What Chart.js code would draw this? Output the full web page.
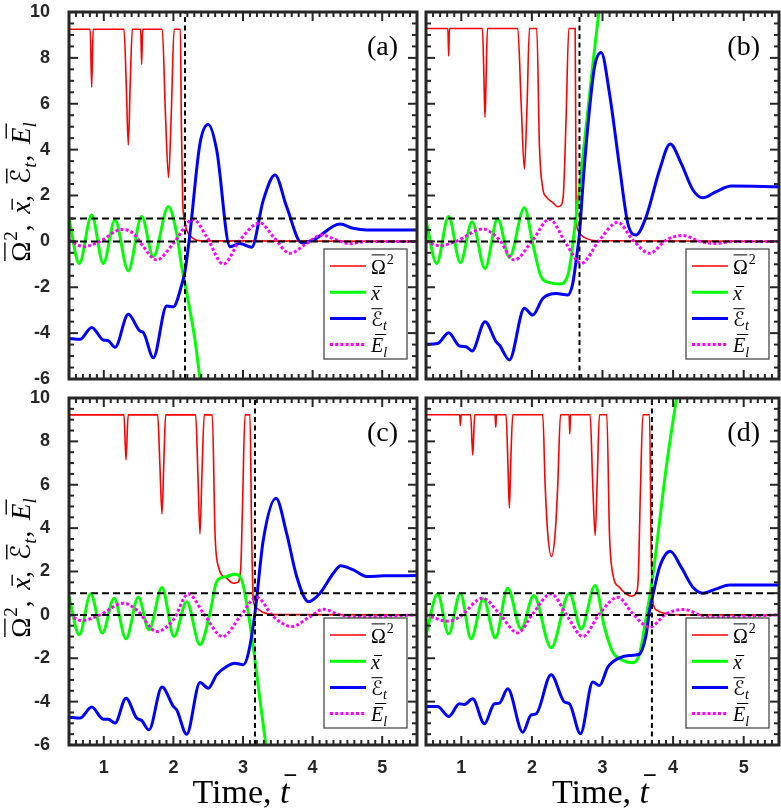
<!DOCTYPE html>
<html>
<head>
<meta charset="utf-8">
<script src="https://cdn.jsdelivr.net/npm/chart.js@4.4.1/dist/chart.umd.min.js"></script>
<style>
  html, body { margin: 0; padding: 0; background: #fff; }
  #fig { position: relative; width: 781px; height: 812px; }
  #fig canvas { position: absolute; }
</style>
</head>
<body>
<div id="fig">
  <canvas id="pa" width="422" height="390" style="left:0;top:0;width:422px;height:390px"></canvas>
  <canvas id="pb" width="359" height="390" style="left:422px;top:0;width:359px;height:390px"></canvas>
  <canvas id="pc" width="422" height="422" style="left:0;top:390px;width:422px;height:422px"></canvas>
  <canvas id="pd" width="359" height="422" style="left:422px;top:390px;width:359px;height:422px"></canvas>
</div>
<script>
// axes
const X_MIN = 0.5, X_MAX = 5.5, Y_MIN = -6, Y_MAX = 10;
const X_TICKS = [1, 2, 3, 4, 5];
const Y_TICKS = [-6, -4, -2, 0, 2, 4, 6, 8, 10];
const PANEL_LABELS = ['(a)', '(b)', '(c)', '(d)'];
// dashed guides: critical time per panel, and the two horizontal levels
const T_CRIT = [2.167, 2.674, 3.172, 3.70];
const REF_LEVELS = [1, 0];

// series, [t, value]
const omega2A = [[0.5,9.25],[0.805,9.25],[0.826,6.72],[0.847,9.25],[1.29,9.25],[1.322,6.9],[1.352,4.2],[1.38,6.9],[1.41,9.25],[1.53,9.25],[1.544,7.72],[1.558,9.25],[1.84,9.25],[1.885,5.6],[1.93,2.78],[1.97,5.6],[2.01,9.25],[2.10,9.25],[2.115,5.0],[2.133,1.8],[2.16,0.9],[2.19,0.5],[2.286,0.12],[2.382,0.02],[5.5,0]];
const xbarA = [[0.5,1.0],[0.648,-0.96],[0.826,1.15],[0.993,-0.96],[1.161,0.93],[1.352,-1.29],[1.544,1.08],[1.712,-0.67],[1.927,1.51],[2.047,0.35],[2.119,-1.1],[2.167,-1.83],[2.238,-3.0],[2.31,-4.3],[2.382,-6.0],[2.45,-7.6]];
const epsA = [[0.5,-4.23],[0.658,-4.27],[0.826,-3.75],[0.993,-4.3],[1.065,-4.33],[1.161,-4.62],[1.352,-3.18],[1.52,-3.91],[1.568,-3.97],[1.712,-5.07],[1.903,-2.82],[1.999,-2.85],[2.119,-1.9],[2.167,-1.3],[2.238,0.35],[2.382,4.27],[2.502,5.1],[2.622,3.98],[2.813,-0.23],[2.957,-0.09],[3.124,-0.26],[3.292,1.8],[3.46,2.89],[3.627,1.51],[3.843,-0.06],[4.011,0.06],[4.394,0.76],[4.585,0.57],[4.777,0.5],[5.5,0.5]];
const elA = [[0.5,0.06],[0.706,-0.23],[0.945,0],[1.257,0.52],[1.424,0.35],[1.568,-0.23],[1.76,-0.81],[1.999,-0.09],[2.286,0.96],[2.478,0.2],[2.717,-0.99],[2.957,0.06],[3.244,0.81],[3.436,0.2],[3.675,-0.52],[3.915,-0.09],[4.13,0.28],[4.346,0.06],[4.537,-0.1],[4.777,0],[5.5,0]];

const omega2B = [[0.5,9.28],[0.81,9.28],[0.821,8.08],[0.832,9.28],[1.30,9.28],[1.32,7.2],[1.336,5.41],[1.352,7.2],[1.37,9.28],[1.80,9.28],[1.848,6.0],[1.894,3.15],[1.932,6.0],[1.965,9.28],[2.069,9.28],[2.107,4.13],[2.154,2.31],[2.201,1.95],[2.296,1.69],[2.367,1.51],[2.414,1.58],[2.447,2.09],[2.485,5.44],[2.523,9.28],[2.613,9.28],[2.627,1.22],[2.65,0.49],[2.697,0.28],[2.768,0.13],[2.91,0.03],[5.5,0]];
const xbarB = [[0.5,0.93],[0.651,-0.96],[0.821,1.08],[0.987,-0.93],[1.152,0.86],[1.336,-1.18],[1.516,1.0],[1.681,-0.7],[1.894,1.47],[2.012,-0.09],[2.13,-1.54],[2.249,-1.8],[2.39,-1.86],[2.508,-1.5],[2.556,-0.7],[2.603,0.5],[2.674,2.3],[2.768,5.0],[2.863,7.7],[2.948,10.0],[3.028,12.3]];
const epsB = [[0.5,-4.49],[0.665,-4.45],[0.821,-3.98],[0.973,-4.56],[1.067,-4.59],[1.152,-4.78],[1.336,-3.5],[1.492,-4.37],[1.54,-4.52],[1.681,-5.17],[1.894,-2.92],[2.012,-3.21],[2.154,-2.49],[2.343,-2.27],[2.508,-2.34],[2.579,-1.83],[2.627,-0.81],[2.674,0.35],[2.721,2.38],[2.792,5.0],[2.887,7.6],[2.981,8.23],[3.099,6.45],[3.241,3.26],[3.359,0.78],[3.477,0.28],[3.619,1.08],[3.808,3.11],[3.959,4.24],[4.115,3.4],[4.281,2.24],[4.422,1.9],[4.611,2.17],[4.824,2.41],[5.5,2.38]];
const elB = [[0.5,0],[0.689,-0.19],[0.925,0],[1.303,0.54],[1.45,0.33],[1.54,0.06],[1.752,-0.81],[2.012,0.06],[2.249,0.97],[2.485,-0.1],[2.697,-0.96],[2.957,0.06],[3.217,0.83],[3.43,0.06],[3.666,-0.52],[3.903,0.06],[4.139,0.26],[4.375,0],[4.611,-0.09],[4.848,0],[5.5,0]];

const omega2C = [[0.5,9.22],[1.29,9.22],[1.319,7.14],[1.35,9.22],[1.774,9.22],[1.805,7.0],[1.836,4.65],[1.862,7.0],[1.889,9.22],[2.32,9.22],[2.352,6.5],[2.382,3.73],[2.41,6.5],[2.444,9.22],[2.559,9.22],[2.598,3.76],[2.646,2.23],[2.765,1.69],[2.861,1.46],[2.918,1.49],[2.966,2.07],[2.995,5.3],[3.029,9.22],[3.10,9.22],[3.124,3.76],[3.148,0.69],[3.196,0.31],[3.292,0.11],[3.45,0.01],[5.5,0]];
const xbarC = [[0.5,0.84],[0.648,-0.92],[0.811,0.97],[0.979,-0.84],[1.147,0.77],[1.319,-1.1],[1.496,0.81],[1.649,-0.69],[1.836,1.26],[2.009,-1.0],[2.191,0.61],[2.382,-1.38],[2.526,0.08],[2.622,1.54],[2.765,1.77],[2.885,1.87],[2.981,1.61],[3.077,0.08],[3.172,-2.07],[3.244,-3.92],[3.33,-6.02],[3.412,-8.0]];
const epsC = [[0.5,-4.72],[0.658,-4.76],[0.826,-4.25],[0.993,-4.81],[1.065,-4.81],[1.161,-4.99],[1.319,-3.84],[1.472,-4.76],[1.544,-4.87],[1.649,-5.3],[1.836,-3.33],[1.999,-4.22],[2.047,-4.38],[2.191,-5.5],[2.382,-3.12],[2.502,-3.38],[2.622,-2.76],[2.765,-2.38],[2.885,-2.23],[3.005,-2.3],[3.077,-1.77],[3.172,0.08],[3.292,3.46],[3.474,5.38],[3.627,3.76],[3.771,1.77],[3.939,0.61],[4.106,1.0],[4.298,1.92],[4.403,2.27],[4.585,2.07],[4.777,1.77],[5.016,1.8],[5.5,1.81]];
const elC = [[0.5,0],[0.682,-0.26],[0.945,0],[1.281,0.54],[1.472,0.23],[1.76,-0.77],[1.999,-0.23],[2.215,0.97],[2.43,0.08],[2.708,-1.0],[2.957,-0.08],[3.196,0.81],[3.436,-0.08],[3.699,-0.54],[3.963,-0.08],[4.154,0.26],[4.394,0],[4.633,-0.1],[5.5,0]];

const omega2D = [[0.5,9.23],[0.977,9.23],[0.987,8.73],[0.997,9.23],[1.133,9.23],[1.162,7.37],[1.19,9.23],[1.478,9.23],[1.488,8.65],[1.498,9.23],[1.634,9.23],[1.66,7.0],[1.681,4.93],[1.70,7.0],[1.729,9.23],[2.154,9.23],[2.187,6.04],[2.225,3.73],[2.277,2.69],[2.329,3.73],[2.367,6.04],[2.405,9.23],[2.527,9.23],[2.537,8.34],[2.547,9.23],[2.825,9.23],[2.86,6.2],[2.896,3.66],[2.925,6.2],[2.957,9.23],[3.061,9.23],[3.099,3.73],[3.146,1.89],[3.241,1.27],[3.32,1.0],[3.41,0.86],[3.475,1.0],[3.505,1.6],[3.534,5.27],[3.572,9.23],[3.666,9.23],[3.69,2.96],[3.713,0.66],[3.761,0.23],[3.903,0.05],[4.1,0],[5.5,0]];
const xbarD = [[0.5,-0.95],[0.665,0.97],[0.821,-0.88],[0.987,1.0],[1.138,-1.1],[1.313,0.74],[1.483,-1.06],[1.658,1.23],[1.847,-0.65],[2.026,0.89],[2.272,-1.52],[2.532,1.0],[2.698,-0.65],[2.896,1.35],[3.028,-0.57],[3.146,-1.72],[3.288,-2.1],[3.43,-2.21],[3.525,-1.8],[3.619,-0.11],[3.713,1.8],[3.808,4.3],[3.903,6.8],[4.044,9.9],[4.139,11.8]];
const epsD = [[0.5,-4.22],[0.665,-4.22],[0.821,-4.69],[0.973,-4.1],[1.043,-4.13],[1.162,-3.87],[1.327,-5.02],[1.469,-4.1],[1.54,-4.07],[1.658,-3.41],[1.871,-5.41],[1.989,-4.61],[2.06,-4.56],[2.272,-2.76],[2.461,-4.02],[2.532,-4.1],[2.688,-5.48],[2.863,-3.1],[2.957,-3.26],[3.076,-2.41],[3.241,-1.98],[3.383,-1.87],[3.515,-1.83],[3.619,-0.9],[3.666,0.2],[3.713,0.9],[3.808,2.2],[3.959,2.93],[4.115,2.2],[4.281,1.27],[4.422,1.0],[4.611,1.2],[4.801,1.38],[5.5,1.38]];
const elD = [[0.5,0],[0.807,-0.29],[0.973,-0.1],[1.303,0.77],[1.54,0.05],[1.8,-0.83],[2.012,0.05],[2.272,0.97],[2.508,-0.1],[2.721,-1.0],[2.957,0.05],[3.217,0.81],[3.43,0.05],[3.666,-0.57],[3.903,0.05],[4.163,0.25],[4.375,0],[4.611,-0.1],[5.5,0]];

// labels (math pieces: text, italic, overline height, sup/sub)
const OMEGA_LABEL = [{ s: 'Ω', bar: 0.93, sup: '2' }];
const XBAR_LABEL = [{ s: 'x', it: true, bar: 0.66 }];
const EPS_LABEL = [{ s: 'ℰ', bar: 0.86, sub: 't' }];
const EL_LABEL = [{ s: 'E', it: true, bar: 0.88, sub: 'l' }];
const COMMA = { s: ',', gap: 0.4 };
const Y_TITLE = [...OMEGA_LABEL, COMMA, ...XBAR_LABEL, COMMA, ...EPS_LABEL, COMMA, ...EL_LABEL];
const X_TITLE = [{ s: 'Time,', gap: 0.25 }, { s: 't', it: true, bar: 0.82 }];

const AXIS_COLOR = '#262626';
const SERIF = '"Liberation Serif", "DejaVu Serif", "DejaVu Sans", serif';

function mfont(size, it) {
  return (it ? 'italic ' : '') + size + 'px ' + SERIF;
}

function mathWidth(ctx, parts, size) {
  let w = 0;
  for (const p of parts) {
    ctx.font = mfont(size, p.it);
    w += ctx.measureText(p.s).width + (p.gap || 0) * size;
    if (p.sup || p.sub) {
      ctx.font = mfont(size * 0.7, !!p.sub);
      w += ctx.measureText(p.sup || p.sub).width + size * 0.04;
    }
  }
  return w;
}

function drawMath(ctx, parts, x, y, size, align) {
  let cx = align === 'center' ? x - mathWidth(ctx, parts, size) / 2 : x;
  ctx.textAlign = 'left';
  ctx.textBaseline = 'alphabetic';
  ctx.fillStyle = '#000';
  ctx.strokeStyle = '#000';
  ctx.setLineDash([]);
  for (const p of parts) {
    ctx.font = mfont(size, p.it);
    const w = ctx.measureText(p.s).width;
    ctx.fillText(p.s, cx, y);
    if (p.bar) {
      const by = y - p.bar * size;
      // centre the bar on the glyph, following the slant for italics
      const mid = cx + w / 2 + (p.it ? 0.2 * p.bar * size : 0);
      const half = Math.max(w * 0.46, size * 0.17);
      ctx.lineWidth = Math.max(1, size * 0.05);
      ctx.beginPath();
      ctx.moveTo(mid - half, by);
      ctx.lineTo(mid + half, by);
      ctx.stroke();
    }
    cx += w;
    if (p.sup) {
      ctx.font = mfont(size * 0.7, false);
      ctx.fillText(p.sup, cx + size * 0.04, y - size * 0.5);
      cx += ctx.measureText(p.sup).width + size * 0.04;
    }
    if (p.sub) {
      ctx.font = mfont(size * 0.7, true);
      ctx.fillText(p.sub, cx, y + size * 0.22);
      cx += ctx.measureText(p.sub).width + size * 0.04;
    }
    cx += (p.gap || 0) * size;
  }
}

const pts = arr => arr.map(([x, y]) => ({ x, y }));

function seg(ctx, x1, y1, x2, y2) {
  ctx.beginPath();
  ctx.moveTo(x1, y1);
  ctx.lineTo(x2, y2);
  ctx.stroke();
}

// legend box, panel tag and axis titles, then the boxed frame with inward ticks
const panelDeco = {
  id: 'panelDeco',
  afterDraw(chart, args, opts) {
    const ctx = chart.ctx;
    const a = chart.chartArea;
    const sx = chart.scales.x, sy = chart.scales.y;
    ctx.save();

    // legend
    const bw = 83, bh = 110;
    const bx = a.right - 10 - bw, by = a.bottom - opts.legendBottom - bh;
    ctx.fillStyle = '#fff';
    ctx.fillRect(bx, by, bw, bh);
    ctx.strokeStyle = '#3a3a3a';
    ctx.lineWidth = 1.2;
    ctx.setLineDash([]);
    ctx.strokeRect(bx, by, bw, bh);
    const entries = chart.data.datasets.filter(d => d.mathLabel);
    entries.forEach((d, i) => {
      const ry = by + 17 + i * 26.2;
      ctx.strokeStyle = d.borderColor;
      ctx.lineWidth = d.borderWidth;
      ctx.setLineDash(d.borderDash || []);
      seg(ctx, bx + 6, ry, bx + 42, ry);
      drawMath(ctx, d.mathLabel, bx + 47, ry + 7.5, 20, 'left');
    });

    // panel tag
    ctx.fillStyle = '#000';
    ctx.font = '28px ' + SERIF;
    ctx.textAlign = 'right';
    ctx.textBaseline = 'middle';
    ctx.fillText(opts.tag, a.right - 19, a.top + 36);

    if (opts.yTitle) {
      ctx.save();
      ctx.translate(30, (a.top + a.bottom) / 2 - 4);
      ctx.rotate(-Math.PI / 2);
      drawMath(ctx, Y_TITLE, 0, 0, 27, 'center');
      ctx.restore();
    }
    if (opts.xTitle) {
      drawMath(ctx, X_TITLE, (a.left + a.right) / 2 - 2, opts.xTitleBase, 34, 'center');
    }

    // frame and ticks
    ctx.setLineDash([]);
    ctx.strokeStyle = AXIS_COLOR;
    ctx.lineWidth = 2;
    for (let i = 5; i <= 55; i++) {
      const px = sx.getPixelForValue(i / 10);
      const len = i % 10 === 0 ? 9 : 5;
      seg(ctx, px, a.bottom, px, a.bottom - len);
      seg(ctx, px, a.top, px, a.top + len);
    }
    for (let i = -12; i <= 20; i++) {
      const py = sy.getPixelForValue(i / 2);
      const len = i % 4 === 0 ? 9 : 5;
      seg(ctx, a.left, py, a.left + len, py);
      seg(ctx, a.right, py, a.right - len, py);
    }
    ctx.lineWidth = 3;
    ctx.strokeRect(a.left, a.top, a.right - a.left, a.bottom - a.top);
    ctx.restore();
  }
};

const PANELS = [
  { id: 'pa', series: [omega2A, xbarA, epsA, elA], showY: true,  showX: false, padding: { left: 0, top: 12, right: 5, bottom: 11 } },
  { id: 'pb', series: [omega2B, xbarB, epsB, elB], showY: false, showX: false, padding: { left: 4, top: 12, right: 2, bottom: 11 } },
  { id: 'pc', series: [omega2C, xbarC, epsC, elC], showY: true,  showX: true,  padding: { left: 0, top: 8, right: 5, bottom: 0 } },
  { id: 'pd', series: [omega2D, xbarD, epsD, elD], showY: false, showX: true,  padding: { left: 4, top: 8, right: 2, bottom: 0 } }
];

const tickFont = { family: '"Liberation Sans", Arial, sans-serif', size: 18, weight: 'bold' };

PANELS.forEach((p, k) => {
  const curve = (data, color, width, order, label, dash) => ({
    data: pts(data), borderColor: color, borderWidth: width, borderDash: dash || [],
    cubicInterpolationMode: 'monotone', order, mathLabel: label,
    pointRadius: 0, pointHitRadius: 0, fill: false
  });
  const guide = (data, dash) => ({
    data: pts(data), borderColor: '#000', borderWidth: 2, borderDash: dash,
    order: 1, pointRadius: 0, pointHitRadius: 0, fill: false
  });
  const datasets = [
    guide([[T_CRIT[k], Y_MIN], [T_CRIT[k], Y_MAX]], [5, 3.5]),
    ...REF_LEVELS.map(h => guide([[X_MIN, h], [X_MAX, h]], [7, 4])),
    curve(p.series[0], '#ff0000', 1.6, 6, OMEGA_LABEL),
    curve(p.series[1], '#00ff00', 3, 5, XBAR_LABEL),
    curve(p.series[2], '#0000ff', 3, 4, EPS_LABEL),
    curve(p.series[3], '#ff00ff', 3, 3, EL_LABEL, [3, 2.2])
  ];

  new Chart(document.getElementById(p.id), {
    type: 'line',
    data: { datasets },
    plugins: [panelDeco],
    options: {
      responsive: false,
      animation: false,
      layout: { padding: p.padding },
      plugins: {
        legend: { display: false },
        tooltip: { enabled: false },
        panelDeco: {
          tag: PANEL_LABELS[k],
          legendBottom: p.showX ? 17 : 20,
          yTitle: p.showY,
          xTitle: p.showX,
          xTitleBase: 413
        }
      },
      scales: {
        x: {
          type: 'linear', min: X_MIN, max: X_MAX, display: p.showX,
          grid: { display: false }, border: { display: false },
          ticks: { font: tickFont, color: AXIS_COLOR, padding: 4, autoSkip: false, maxRotation: 0 },
          afterBuildTicks: s => { s.ticks = X_TICKS.map(v => ({ value: v })); },
          afterFit: s => { s.height = p.showX ? 67 : 0; s.paddingLeft = 0; s.paddingRight = 0; }
        },
        y: {
          type: 'linear', min: Y_MIN, max: Y_MAX, display: p.showY,
          grid: { display: false }, border: { display: false },
          ticks: { font: tickFont, color: AXIS_COLOR, padding: 11, autoSkip: false },
          afterBuildTicks: s => { s.ticks = Y_TICKS.map(v => ({ value: v })); },
          afterFit: s => { s.width = p.showY ? 69 : 0; s.paddingTop = 0; s.paddingBottom = 0; }
        }
      }
    }
  });
});
</script>
</body>
</html>
